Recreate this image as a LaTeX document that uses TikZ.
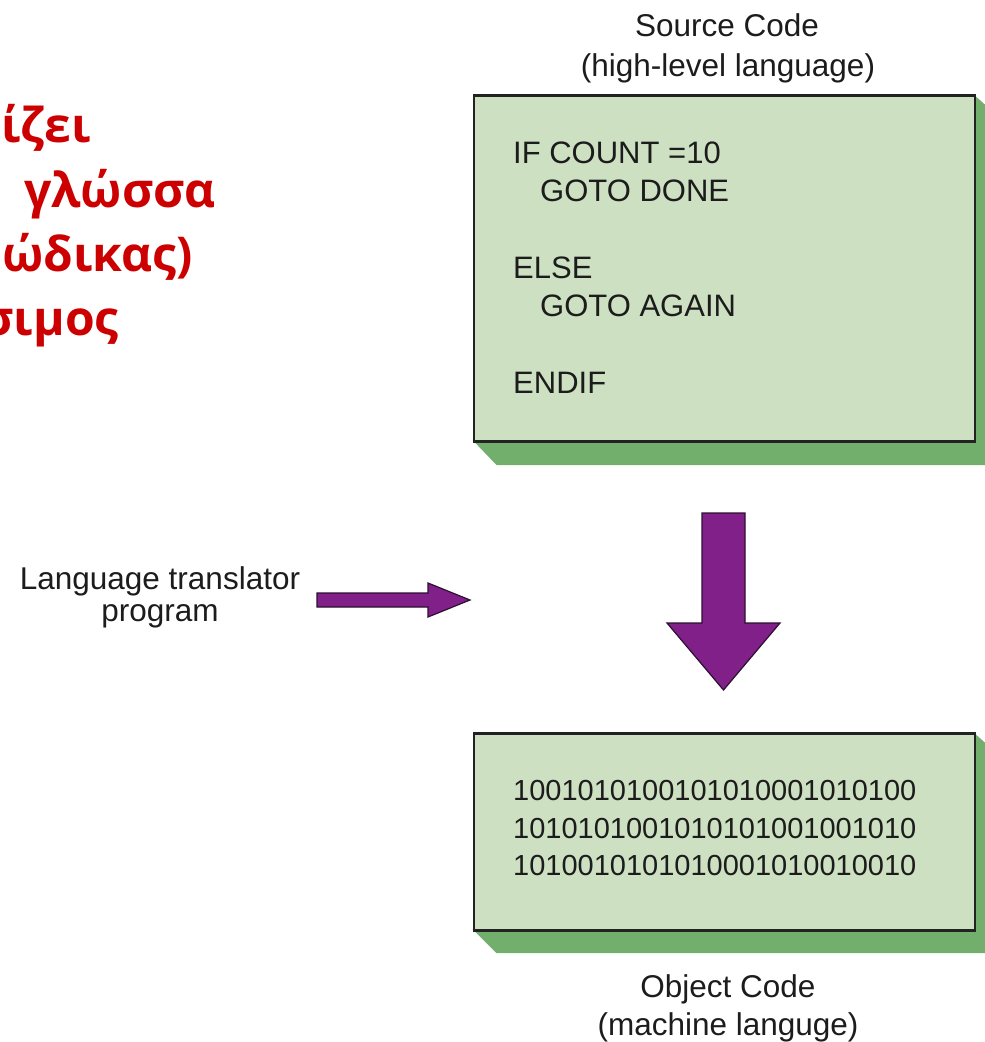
\documentclass[tikz,border=0pt]{standalone}
\usepackage{fontspec}
\setmainfont{Liberation Sans}
\newfontfamily\grkfont{Open Sans}

\definecolor{boxfill}{RGB}{205,225,194}
\definecolor{boxshade}{RGB}{114,174,108}
\definecolor{boxline}{RGB}{34,34,34}
\definecolor{arrowfill}{RGB}{128,32,136}
\definecolor{arrowline}{RGB}{45,15,50}
\definecolor{inktext}{RGB}{28,28,28}
\definecolor{headred}{RGB}{204,0,0}

\tikzset{
  codebox/.style={draw=boxline, line width=2.6pt, fill=boxfill, inner sep=0pt},
  shade/.style={fill=boxshade, draw=none},
  blockarrow/.style={fill=arrowfill, draw=arrowline, line width=1.2pt, line join=miter},
  codetext/.style={anchor=base west, inner sep=0pt, text=inktext,
                   font=\fontsize{31}{37}\selectfont},
  bintext/.style={anchor=base west, inner sep=0pt, text=inktext,
                  font=\fontsize{29}{36}\selectfont},
  caption/.style={anchor=base, inner sep=0pt, text=inktext,
                  font=\fontsize{31.5}{37}\selectfont},
  greekline/.style={anchor=base east, inner sep=0pt, text=headred,
                    font=\grkfont\bfseries\fontsize{48}{56}\selectfont}
}

\begin{document}
\begin{tikzpicture}[x=1pt,y=-1pt]
\useasboundingbox (0,0) rectangle (985,1042);
\clip (0,0) rectangle (985,1042);

% heading text, running off the left margin
\node[greekline, anchor=base west] (g1) at (1,142) {ίζει};
\node[greekline] (g2) at (216,207) {γλώσσα};
\node[greekline] (g3) at (193,271) {ώδικας)};
\node[greekline] (g4) at (119,335) {σιμος};

% source code panel
\node[caption] (srccap1) at (727,36) {Source Code};
\node[caption] (srccap2) at (728,76) {(high-level language)};
\fill[shade] (472.5,440) -- (496.5,465) -- (1000,465) -- (1000,118) -- (973,94) -- cycle;
\node[codebox, anchor=north west, minimum width=501pt, minimum height=346pt] (src) at (472.5,94) {};
\node[codetext] (s1) at (513,163) {IF COUNT =10};
\node[codetext] (s2) at (540,201) {GOTO DONE};
\node[codetext] (s3) at (513,278) {ELSE};
\node[codetext] (s4) at (540,316) {GOTO AGAIN};
\node[codetext] (s5) at (513,393) {ENDIF};

% translator label and its arrow
\node[caption] (lt1) at (160,589) {Language translator};
\node[caption] (lt2) at (160,621) {program};
\coordinate (rtail) at (317,600);
\coordinate (rtip) at (470,600);
\draw[blockarrow] ([yshift=7pt]rtail) -- (428,593) -- (428,583) -- (rtip)
   -- (428,617) -- (428,607) -- ([yshift=-7pt]rtail) -- cycle;

% translation arrow between the panels
\coordinate (dtail) at (723.5,513);
\coordinate (dtip) at (723.5,690);
\draw[blockarrow] (702,513) -- (745,513) -- (745,623) -- (780,623) -- (dtip)
   -- (667,623) -- (702,623) -- cycle;

% object code panel
\fill[shade] (472.5,929) -- (496.5,953) -- (1000,953) -- (1000,756) -- (973,732) -- cycle;
\node[codebox, anchor=north west, minimum width=501pt, minimum height=197pt] (obj) at (472.5,732) {};
\node[bintext] (b1) at (513,800) {1001010100101010001010100};
\node[bintext] (b2) at (513,838) {1010101001010101001001010};
\node[bintext] (b3) at (513,875) {1010010101010001010010010};
\node[caption] (objcap1) at (728,997) {Object Code};
\node[caption] (objcap2) at (728,1035) {(machine languge)};
\end{tikzpicture}
\end{document}
